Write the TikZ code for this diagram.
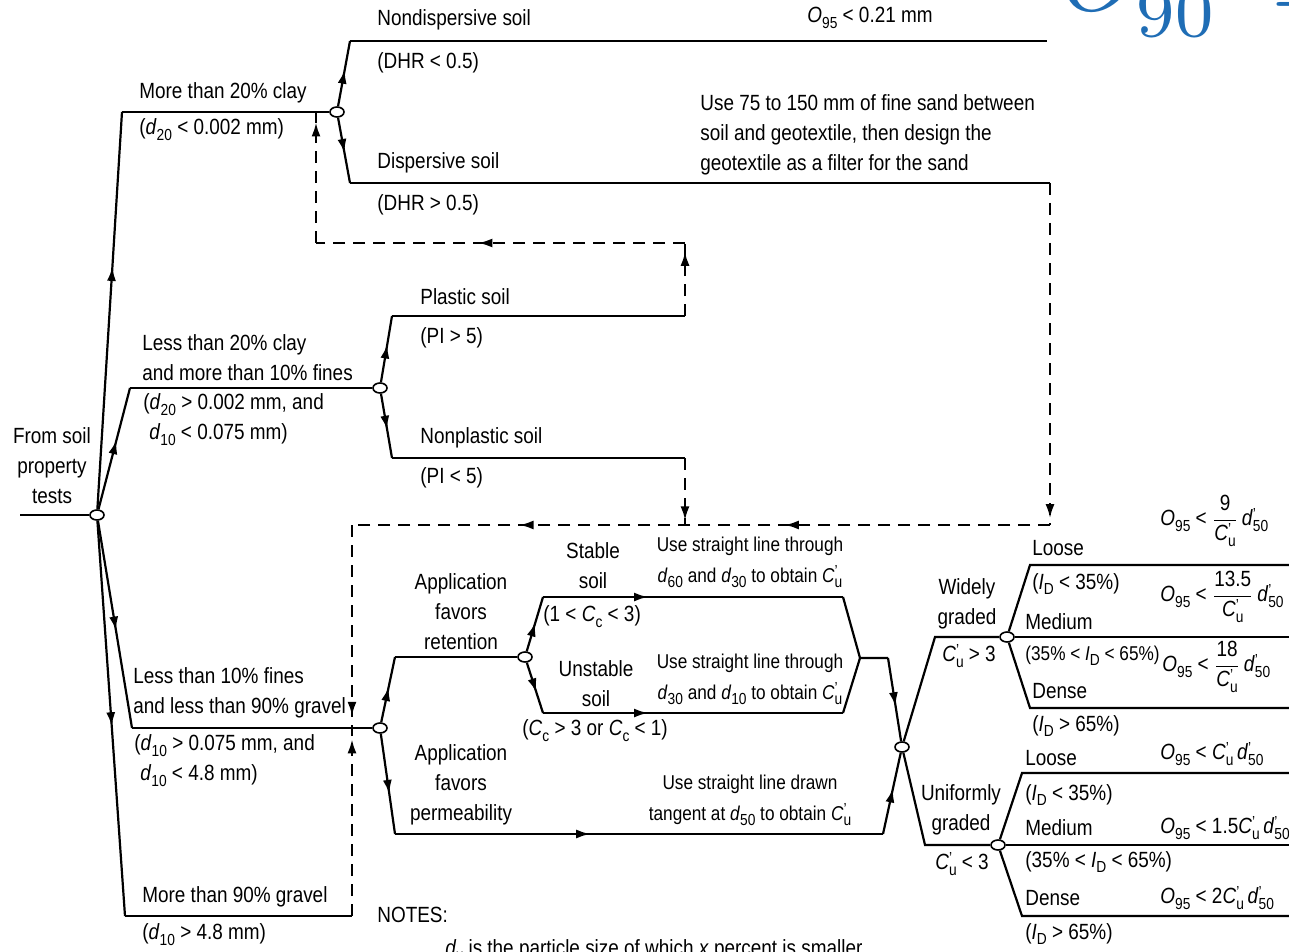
\documentclass[tikz,border=0pt]{standalone}
\usepackage[no-math]{fontspec}
\setmainfont{Liberation Sans}[FakeStretch=0.86]
\usepackage{amsmath}
\usetikzlibrary{arrows.meta,decorations.markings,shapes.geometric}

\newcommand{\sbs}[2]{\textit{#1}\raisebox{-0.5ex}{\footnotesize #2}}
\newcommand{\sbp}[2]{\textit{#1}\makebox[0pt][l]{\raisebox{0.5ex}{\footnotesize'}}\raisebox{-0.5ex}{\footnotesize #2}}

\tikzset{
  flow/.style={line width=1.1pt},
  back/.style={line width=1.1pt, dash pattern=on 6pt off 4pt},
  junction/.style={ellipse, draw, fill=white, line width=0.8pt, minimum width=7pt, minimum height=5pt, inner sep=0pt},
  lbl/.style={inner sep=0pt, anchor=west, align=left},
  clbl/.style={inner sep=0pt, align=center},
  small/.style={font=\fontsize{10}{15.5}\selectfont},
  tip/.style={postaction={decorate, decoration={markings, mark=at position #1 with {\arrow{Latex[length=7pt,width=4.5pt]}}}}},
}

\begin{document}
\begin{tikzpicture}[x=0.5pt,y=-0.5pt,font=\fontsize{11}{15}\selectfont]
    \def\rightEdge{1289}
    \definecolor{noteBlue}{HTML}{1F6DB5}

    % Frame
    \useasboundingbox (0,0) rectangle (\rightEdge,952);
    \clip (0,0) rectangle (\rightEdge,952);

    % Junctions
    \node[junction] (root)    at (97,515)  {};
    \node[junction] (clay)    at (337,112) {};
    \node[junction] (fines)   at (380,388) {};
    \node[junction] (gravel)  at (380,728) {};
    \node[junction] (retain)  at (525,657) {};
    \node[junction] (grade)   at (902,747) {};
    \node[junction] (wide)    at (1007,637) {};
    \node[junction] (uniform) at (998,845) {};

    % Corners
    \coordinate (in)        at (20,515);
    \coordinate (clayUp)    at (122,112);
    \coordinate (finesUp)   at (130,388);
    \coordinate (gravelUp)  at (132,728);
    \coordinate (coarseUp)  at (125,916);
    \coordinate (coarseEnd) at (352,916);
    \coordinate (ndUp)      at (350,41);
    \coordinate (ndEnd)     at (1047,41);
    \coordinate (dsDown)    at (350,183);
    \coordinate (dsEnd)     at (1050,183);
    \coordinate (plUp)      at (392,316);
    \coordinate (plEnd)     at (685,316);
    \coordinate (npDown)    at (392,458);
    \coordinate (npEnd)     at (685,458);
    \coordinate (npIn)      at (685,525);
    \coordinate (loopTop)   at (685,243);
    \coordinate (loopLeft)  at (316,243);
    \coordinate (loopIn)    at (316,112);
    \coordinate (backTop)   at (1050,525);
    \coordinate (backLeft)  at (352,525);
    \coordinate (backIn)    at (352,728);
    \coordinate (retUp)     at (395,657);
    \coordinate (permDown)  at (395,834);
    \coordinate (permEnd)   at (883,834);
    \coordinate (stUp)      at (543,597);
    \coordinate (stEnd)     at (843,597);
    \coordinate (unDown)    at (543,713);
    \coordinate (unEnd)     at (843,713);
    \coordinate (merge)     at (860,658);
    \coordinate (mergeEnd)  at (888,658);
    \coordinate (wideUp)    at (935,637);
    \coordinate (uniDown)   at (925,845);

    % Soil tests
    \draw[flow] (in) -- (root);
    \draw[flow, tip=0.61] (root) -- (clayUp);
    \draw[flow] (clayUp) -- (clay);
    \draw[flow, tip=0.57] (root) -- (finesUp);
    \draw[flow] (finesUp) -- (fines);
    \draw[flow, tip=0.53] (root) -- (gravelUp);
    \draw[flow] (gravelUp) -- (gravel);
    \draw[flow, tip=0.52] (root) -- (coarseUp);
    \draw[flow] (coarseUp) -- (coarseEnd);

    % Clay
    \draw[flow, tip=0.56] (clay) -- (ndUp);
    \draw[flow] (ndUp) -- (ndEnd);
    \draw[flow, tip=0.54] (clay) -- (dsDown);
    \draw[flow] (dsDown) -- (dsEnd);

    % Fines
    \draw[flow, tip=0.57] (fines) -- (plUp);
    \draw[flow] (plUp) -- (plEnd);
    \draw[flow, tip=0.56] (fines) -- (npDown);
    \draw[flow] (npDown) -- (npEnd);

    % Return paths
    \draw[back, tip=0.88] (plEnd) -- (loopTop);
    \draw[back, tip=0.56] (loopTop) -- (loopLeft);
    \draw[back, tip=0.92] (loopLeft) -- (loopIn);
    \draw[back, tip=0.93] (npEnd) -- (npIn);
    \draw[back, tip=0.98] (dsEnd) -- (backTop);
    \draw[back, tip=0.38, tip=0.76] (backTop) -- (backLeft);
    \draw[back, tip=0.94] (backLeft) -- (backIn);
    \draw[back, tip=0.94] (coarseEnd) -- (backIn);

    % Gravel
    \draw[flow, tip=0.54] (gravel) -- (retUp);
    \draw[flow] (retUp) -- (retain);
    \draw[flow, tip=0.6] (gravel) -- (permDown);
    \draw[flow, tip=0.4] (permDown) -- (permEnd);
    \draw[flow, tip=0.56] (permEnd) -- (grade);
    \draw[flow, tip=0.53] (retain) -- (stUp);
    \draw[flow, tip=0.35] (stUp) -- (stEnd);
    \draw[flow] (stEnd) -- (merge);
    \draw[flow, tip=0.59] (retain) -- (unDown);
    \draw[flow, tip=0.35] (unDown) -- (unEnd);
    \draw[flow] (unEnd) -- (merge) -- (mergeEnd);
    \draw[flow, tip=0.58] (mergeEnd) -- (grade);

    % Grading
    \draw[flow] (grade) -- (wideUp) -- (wide);
    \draw[flow] (grade) -- (uniDown) -- (uniform);
    \draw[flow] (wide) -- (1030,565) -- (\rightEdge,565);
    \draw[flow] (wide) -- (\rightEdge,637);
    \draw[flow] (wide) -- (1030,708) -- (\rightEdge,708);
    \draw[flow] (uniform) -- (1022,773) -- (\rightEdge,773);
    \draw[flow] (uniform) -- (\rightEdge,845);
    \draw[flow] (uniform) -- (1022,916) -- (\rightEdge,916);

    % Labels
    \node[clbl] (src) at (52,466) {From soil\\property\\tests};
    \node[lbl] (clayA) at (139,93) {More than 20\% clay};
    \node[lbl] (clayB) at (139,130) {(\sbs{d}{20} < 0.002 mm)};
    \node[lbl] (finesA) at (142,358) {Less than 20\% clay\\and more than 10\% fines};
    \node[lbl] (finesB) at (143,420) {(\sbs{d}{20} > 0.002 mm, and\\\hspace{3pt}\sbs{d}{10} < 0.075 mm)};
    \node[lbl] (gravelA) at (133,693) {Less than 10\% fines\\and less than 90\% gravel};
    \node[lbl] (gravelB) at (134,761) {(\sbs{d}{10} > 0.075 mm, and\\\hspace{3pt}\sbs{d}{10} < 4.8 mm)};
    \node[lbl] (coarseA) at (142,897) {More than 90\% gravel};
    \node[lbl] (coarseB) at (142,935) {(\sbs{d}{10} > 4.8 mm)};

    \node[lbl] (ndA) at (377,20) {Nondispersive soil};
    \node[lbl] (ndB) at (377,63) {(DHR < 0.5)};
    \node[lbl] (dsA) at (377,163) {Dispersive soil};
    \node[lbl] (dsB) at (377,205) {(DHR > 0.5)};
    \node[lbl] (ndRule) at (807,18) {\sbs{O}{95} < 0.21 mm};
    \node[lbl] (dsRule) at (700,135) {Use 75 to 150 mm of fine sand between\\soil and geotextile, then design the\\geotextile as a filter for the sand};

    \node[lbl] (plA) at (420,297) {Plastic soil};
    \node[lbl] (plB) at (420,338) {(PI > 5)};
    \node[lbl] (npA) at (420,438) {Nonplastic soil};
    \node[lbl] (npB) at (420,478) {(PI < 5)};

    \node[clbl] (retLbl) at (461,612) {Application\\favors\\retention};
    \node[clbl] (permLbl) at (461,785) {Application\\favors\\permeability};
    \node[clbl] (stA) at (593,566) {Stable\\soil};
    \node[lbl] (stB) at (543,617) {(1 < \sbs{C}{c} < 3)};
    \node[clbl] (unA) at (596,684) {Unstable\\soil};
    \node[lbl] (unB) at (522,731) {(\sbs{C}{c} > 3 or \sbs{C}{c} < 1)};
    \node[clbl, small] (stRule) at (750,562) {Use straight line through\\\sbs{d}{60} and \sbs{d}{30} to obtain \sbp{C}{u}};
    \node[clbl, small] (unRule) at (750,679) {Use straight line through\\\sbs{d}{30} and \sbs{d}{10} to obtain \sbp{C}{u}};
    \node[clbl, small] (permRule) at (750,800) {Use straight line drawn\\tangent at \sbs{d}{50} to obtain \sbp{C}{u}};

    \node[clbl] (wideA) at (967,604) {Widely\\graded};
    \node[clbl] (wideB) at (969,656) {\sbp{C}{u} > 3};
    \node[clbl] (uniA) at (961,810) {Uniformly\\graded};
    \node[clbl] (uniB) at (962,864) {\sbp{C}{u} < 3};

    \node[lbl] (wLoose) at (1032,548) {Loose};
    \node[lbl] (wLooseB) at (1032,584) {(\sbs{I}{D} < 35\%)};
    \node[lbl] (wMed) at (1025,622) {Medium};
    \node[lbl, small] (wMedB) at (1025,656) {(35\% < \sbs{I}{D} < 65\%)};
    \node[lbl] (wDense) at (1032,691) {Dense};
    \node[lbl] (wDenseB) at (1032,726) {(\sbs{I}{D} > 65\%)};
    \node[lbl] (uLoose) at (1025,758) {Loose};
    \node[lbl] (uLooseB) at (1025,795) {(\sbs{I}{D} < 35\%)};
    \node[lbl] (uMed) at (1025,828) {Medium};
    \node[lbl] (uMedB) at (1025,862) {(35\% < \sbs{I}{D} < 65\%)};
    \node[lbl] (uDense) at (1025,898) {Dense};
    \node[lbl] (uDenseB) at (1025,934) {(\sbs{I}{D} > 65\%)};

    % Opening sizes
    \node[lbl] (wLooseO) at (1160,521) {\sbs{O}{95} < $\dfrac{\text{9}}{\text{\sbp{C}{u}}}$\,\sbp{d}{50}};
    \node[lbl] (wMedO) at (1160,597) {\sbs{O}{95} < $\dfrac{\text{13.5}}{\text{\sbp{C}{u}}}$\,\sbp{d}{50}};
    \node[lbl] (wDenseO) at (1162,667) {\sbs{O}{95} < $\dfrac{\text{18}}{\text{\sbp{C}{u}}}$\,\sbp{d}{50}};
    \node[lbl] (uLooseO) at (1160,754) {\sbs{O}{95} < \sbp{C}{u}\,\sbp{d}{50}};
    \node[lbl] (uMedO) at (1160,828) {\sbs{O}{95} < 1.5\sbp{C}{u}\,\sbp{d}{50}};
    \node[lbl] (uDenseO) at (1160,898) {\sbs{O}{95} < 2\sbp{C}{u}\,\sbp{d}{50}};

    % Notes
    \node[lbl] (notes) at (377,915) {NOTES:};
    \node[lbl] (noteA) at (445,950) {\sbs{d}{x} is the particle size of which \textit{x} percent is smaller};
    \node[scale=4.5, anchor=base west, inner sep=0pt, text=noteBlue] (hdr) at (1060,11)
        {$O_{\lower1.2pt\hbox{$\scriptstyle 90$}}$\hspace{6pt}\raisebox{-1pt}{$=$}};

\end{tikzpicture}
\end{document}
